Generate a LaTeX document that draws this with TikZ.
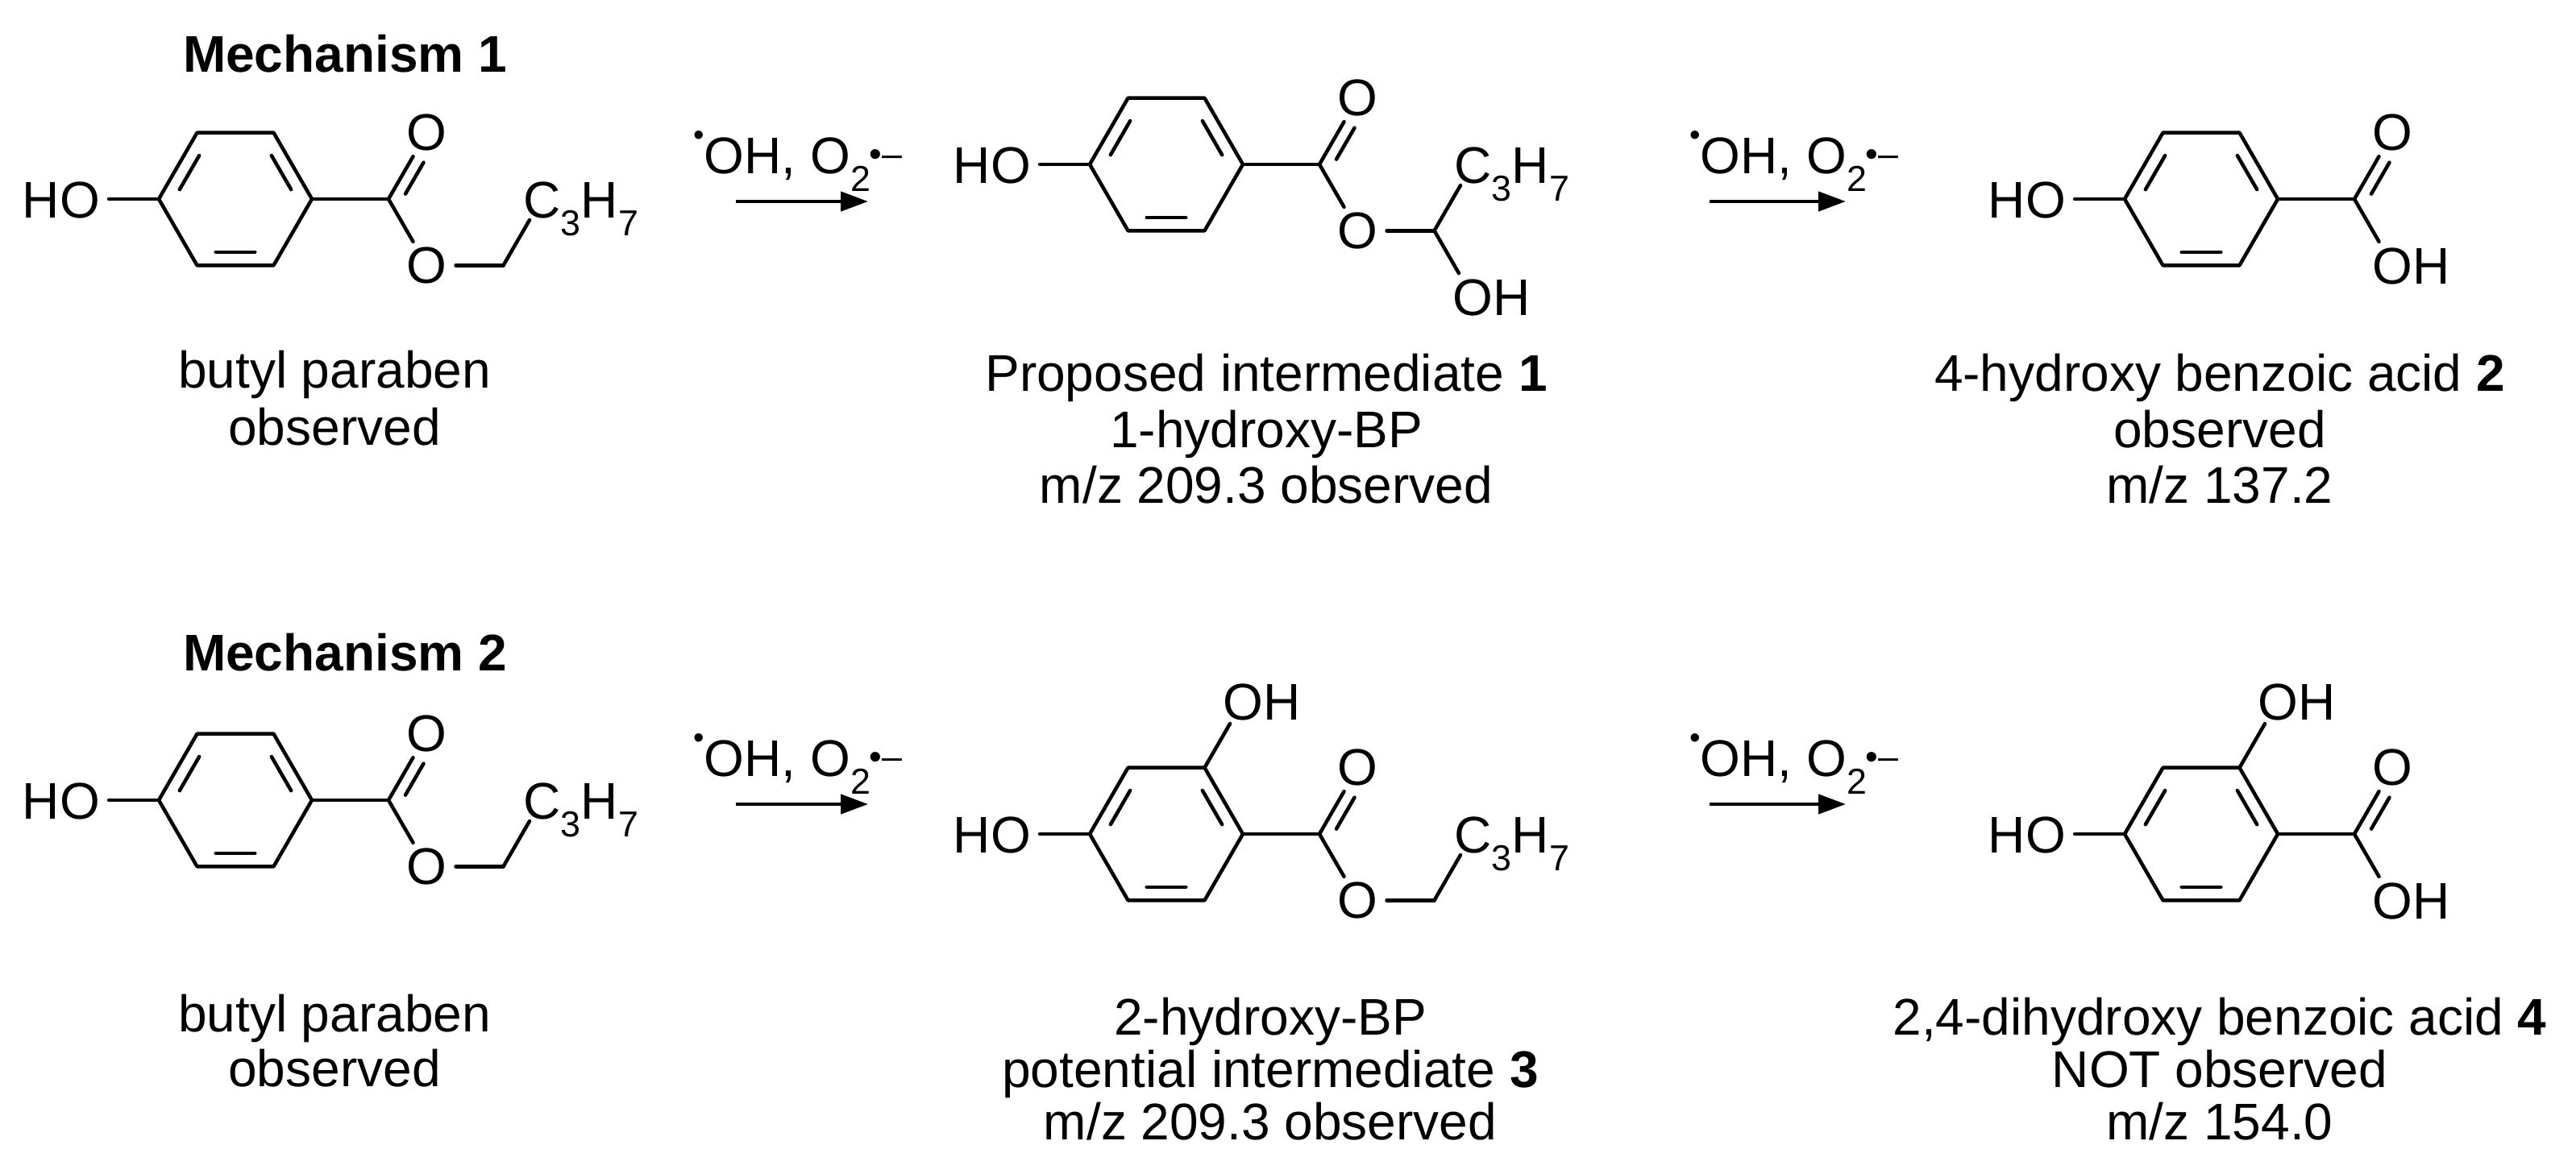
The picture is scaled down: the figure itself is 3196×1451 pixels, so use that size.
\documentclass[tikz,border=0pt]{standalone}
\usepackage{fontspec}
\setmainfont{Liberation Sans}
\usetikzlibrary{calc,arrows.meta}
\newcommand\fsz{\fontsize{64}{70}\selectfont}
\tikzset{
  bond/.style={line width=4.5pt,line cap=round},
  atom/.style={inner sep=0pt,font=\fsz},
  lbl/.style={inner sep=0pt,font=\fsz,anchor=base},
  rxn/.style={line width=4.5pt,-{Triangle[length=34pt,width=24pt]}},
}
% ring with prefix #1 at (#2)
\newcommand\myring[2]{%
  \coordinate (#1c) at (#2);
  \coordinate (#1L) at ($(#2)+(-95,0)$);
  \coordinate (#1TL) at ($(#2)+(-47.5,-82.3)$);
  \coordinate (#1TR) at ($(#2)+(47.5,-82.3)$);
  \coordinate (#1R) at ($(#2)+(95,0)$);
  \coordinate (#1BR) at ($(#2)+(47.5,82.3)$);
  \coordinate (#1BL) at ($(#2)+(-47.5,82.3)$);
  \draw[bond,line join=round] (#1L)--(#1TL)--(#1TR)--(#1R)--(#1BR)--(#1BL)--cycle;
  \draw[bond] ($(#1L)!0.18!(#1TL)!0.2!(#1c)$)--($(#1L)!0.82!(#1TL)!0.2!(#1c)$);
  \draw[bond] ($(#1TR)!0.18!(#1R)!0.2!(#1c)$)--($(#1TR)!0.82!(#1R)!0.2!(#1c)$);
  \draw[bond] ($(#1BR)!0.18!(#1BL)!0.2!(#1c)$)--($(#1BR)!0.82!(#1BL)!0.2!(#1c)$);
  \node[atom,anchor=base east] (#1HO) at ($(#2)+(-168,23)$) {HO};
  \draw[bond] ($(#2)+(-157,0)$)--(#1L);
}
% carbonyl: C at ring+(190,0), O up
\newcommand\carbonyl[1]{%
  \coordinate (#1C) at ($(#1c)+(190,0)$);
  \coordinate (#1Ov) at ($(#1c)+(237.5,-82.3)$);
  \coordinate (#1Ob) at ($(#1c)+(237.5,82.3)$);
  \draw[bond] (#1R)--(#1C);
  \node[atom] (#1O) at (#1Ov) {O};
  \draw[bond,shorten >=34pt] (#1C)--(#1Ov);
  \draw[bond,shorten >=34pt,shorten <=16pt] ($(#1C)+(13,7.5)$)--($(#1Ov)+(13,7.5)$);
  \draw[bond,shorten >=34pt] (#1C)--(#1Ob);
}
\newcommand\ester[1]{%
  \node[atom] (#1Oe) at (#1Ob) {O};
  \coordinate (#1M) at ($(#1c)+(332.5,82.3)$);
  \coordinate (#1Pv) at ($(#1c)+(380,0)$);
  \draw[bond,shorten <=36pt] (#1Ob)--(#1M);
  \draw[bond,shorten >=30pt] (#1M)--(#1Pv);
  \node[atom,anchor=base west] (#1P) at ($(#1Pv)+(-23,23)$) {C\textsubscript{3}H\textsubscript{7}};
}
\newcommand\rxnlbl{\raisebox{0.55em}{\scalebox{0.6}{•}}OH, O\textsubscript{2}\kern-2pt\textsuperscript{•–}}
\begin{document}
\begin{tikzpicture}[x=1pt,y=-1pt]
\useasboundingbox (0,0) rectangle (3196,1451);
% ---------- Mechanism 1
\node[atom,font=\fsz\bfseries] (t1) at (428,67) {Mechanism 1};
\myring{a}{292,247}\carbonyl{a}\ester{a}
\node[lbl] (a1) at (415,481) {butyl paraben};
\node[lbl] (a2) at (415,552) {observed};

\coordinate (r1s) at (913,250); \coordinate (r1e) at (1077,250);
\draw[rxn] (r1s)--(r1e);
\node[atom] (r1l) at (990,200) {\rxnlbl};

\myring{b}{1447,204}\carbonyl{b}
\node[atom] (bOe) at (bOb) {O};
\coordinate (bM) at ($(bc)+(332.5,82.3)$);
\coordinate (bPv) at ($(bc)+(380,0)$);
\coordinate (bHv) at ($(bc)+(380,164.6)$);
\draw[bond,shorten <=36pt] (bOb)--(bM);
\draw[bond,shorten >=30pt] (bM)--(bPv);
\draw[bond,shorten >=34pt] (bM)--(bHv);
\node[atom,anchor=base west] (bP) at ($(bPv)+(-23,23)$) {C\textsubscript{3}H\textsubscript{7}};
\node[atom,anchor=base west] (bOH) at ($(bHv)+(-25,23)$) {OH};
\node[lbl] (b1) at (1571,485) {Proposed intermediate \textbf{1}};
\node[lbl] (b2) at (1571,555) {1-hydroxy-BP};
\node[lbl] (b3) at (1571,624) {m/z 209.3 observed};

\coordinate (r2s) at (2121,250); \coordinate (r2e) at (2290,250);
\draw[rxn] (r2s)--(r2e);
\node[atom] (r2l) at (2226,200) {\rxnlbl};

\myring{c}{2731,247}\carbonyl{c}
\node[atom,anchor=base west] (cOH) at ($(cOb)+(-25,23)$) {OH};
\node[lbl] (c1) at (2754,485) {4-hydroxy benzoic acid \textbf{2}};
\node[lbl] (c2) at (2754,555) {observed};
\node[lbl] (c3) at (2754,624) {m/z 137.2};

% ---------- Mechanism 2
\node[atom,font=\fsz\bfseries] (t2) at (428,810) {Mechanism 2};
\myring{d}{292,993}\carbonyl{d}\ester{d}
\node[lbl] (d1) at (415,1280) {butyl paraben};
\node[lbl] (d2) at (415,1348) {observed};

\coordinate (r3s) at (913,998); \coordinate (r3e) at (1077,998);
\draw[rxn] (r3s)--(r3e);
\node[atom] (r3l) at (990,948) {\rxnlbl};

\myring{e}{1447,1035}\carbonyl{e}\ester{e}
\coordinate (eTv) at ($(ec)+(95,-164.6)$);
\draw[bond,shorten >=32pt] (eTR)--(eTv);
\node[atom,anchor=base west] (eOH) at ($(eTv)+(-25,23)$) {OH};
\node[lbl] (e1) at (1576,1284) {2-hydroxy-BP};
\node[lbl] (e2) at (1576,1349) {potential intermediate \textbf{3}};
\node[lbl] (e3) at (1576,1414) {m/z 209.3 observed};

\coordinate (r4s) at (2121,998); \coordinate (r4e) at (2290,998);
\draw[rxn] (r4s)--(r4e);
\node[atom] (r4l) at (2226,948) {\rxnlbl};

\myring{f}{2731,1035}\carbonyl{f}
\node[atom,anchor=base west] (fOH) at ($(fOb)+(-25,23)$) {OH};
\coordinate (fTv) at ($(fc)+(95,-164.6)$);
\draw[bond,shorten >=32pt] (fTR)--(fTv);
\node[atom,anchor=base west] (fOH2) at ($(fTv)+(-25,23)$) {OH};
\node[lbl] (f1) at (2754,1284) {2,4-dihydroxy benzoic acid \textbf{4}};
\node[lbl] (f2) at (2754,1349) {NOT observed};
\node[lbl] (f3) at (2754,1414) {m/z 154.0};
\end{tikzpicture}
\end{document}
